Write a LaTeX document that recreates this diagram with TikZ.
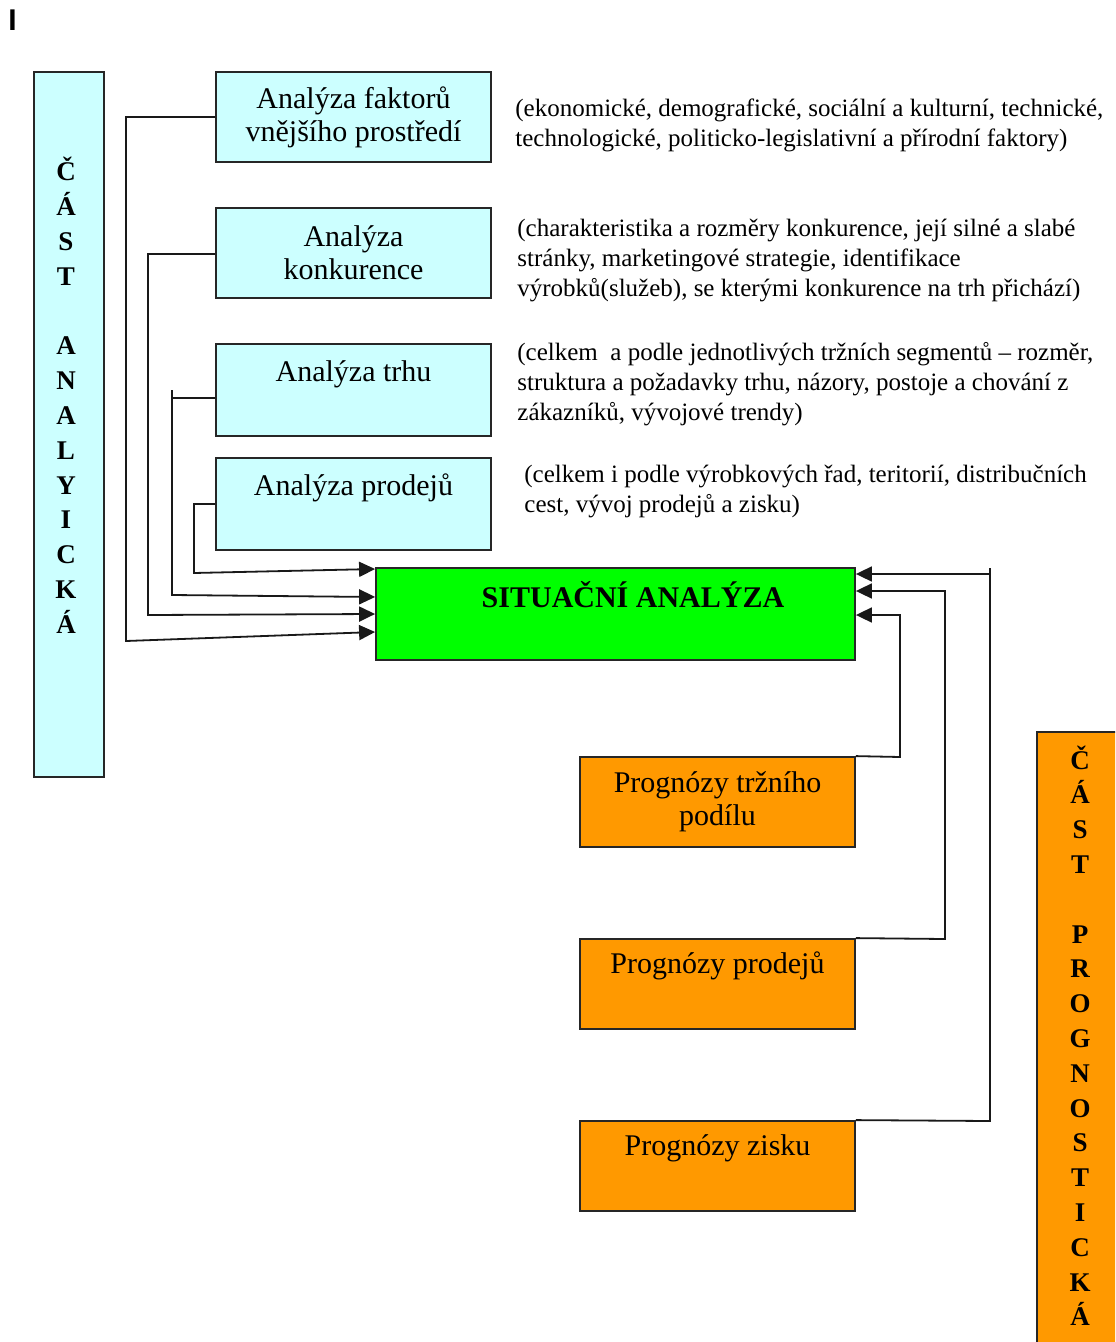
\documentclass[tikz,border=0pt]{standalone}
\usepackage{fontspec}
\setmainfont{Liberation Serif}
\newfontfamily\marksans{Liberation Sans}
\usetikzlibrary{arrows.meta}
\definecolor{paleCyan}{HTML}{CCFFFF}
\definecolor{vivGreen}{HTML}{00FF00}
\definecolor{amber}{HTML}{FF9900}
\begin{document}
\begin{tikzpicture}[x=0.5pt,y=-0.5pt,
  box/.style={draw=black!85, line width=0.9pt, inner sep=0pt, align=center,
    font=\fontsize{15}{16.5}\selectfont},
  stdbox/.style={box, minimum width=137.5pt, minimum height=45pt},
  anbox/.style={stdbox, fill=paleCyan},
  prbox/.style={stdbox, fill=amber},
  btxt/.style={inner sep=0pt, anchor=base, font=\fontsize{15}{16.5}\selectfont},
  note/.style={inner sep=0pt, anchor=base west, font=\fontsize{12.5}{15}\selectfont},
  colttl/.style={inner sep=0pt, anchor=base, font=\bfseries\fontsize{13.5}{17.4}\selectfont},
  link/.style={draw=black!90, line width=0.9pt},
  arr/.style={link, -{Triangle[length=8pt,width=7.5pt]}}
]
\clip (0,0) rectangle (1115,1342);
\fill[white] (0,0) rectangle (1115,1342);

% marker in the top-left corner
\node[inner sep=0pt, anchor=base west, font=\marksans\bfseries\fontsize{15}{18}\selectfont] (mark) at (8,31) {I};

% side columns
\node[box, fill=paleCyan, minimum width=35pt, minimum height=352.5pt] (lcol) at (69,424.5) {};
\node[colttl] (lcolt) at (66,181) {\begin{tabular}[t]{@{}c@{}}Č\\Á\\S\\T\\ \\A\\N\\A\\L\\Y\\I\\C\\K\\Á\end{tabular}};
\node[box, fill=amber, minimum width=44pt, minimum height=314pt] (rcol) at (1081,1046) {};
\node[colttl] (rcolt) at (1080,769) {\begin{tabular}[t]{@{}c@{}}Č\\Á\\S\\T\\ \\P\\R\\O\\G\\N\\O\\S\\T\\I\\C\\K\\Á\end{tabular}};

% analysis boxes
\node[anbox] (b1) at (353.5,117) {Analýza faktorů\\vnějšího prostředí};
\node[anbox] (b2) at (353.5,253) {Analýza\\konkurence};
\node[anbox, minimum height=46pt] (b3) at (353.5,390) {};
\node[btxt] (t3) at (353.5,381) {Analýza trhu};
\node[anbox, minimum height=46pt] (b4) at (353.5,504) {};
\node[btxt] (t4) at (353.5,495) {Analýza prodejů};

% central box
\node[box, fill=vivGreen, minimum width=239.5pt, minimum height=46pt] (sa) at (615.5,614) {};
\node[btxt, font=\bfseries\fontsize{15}{18}\selectfont] (sat) at (633,607) {SITUAČNÍ ANALÝZA};

% forecast boxes
\node[prbox] (o1) at (717.5,802) {Prognózy tržního\\podílu};
\node[prbox] (o2) at (717.5,984) {};
\node[btxt] (t6) at (717.5,973) {Prognózy prodejů};
\node[prbox] (o3) at (717.5,1166) {};
\node[btxt] (t7) at (717.5,1155) {Prognózy zisku};

% notes
\node[note] (n1) at (515,117) {\begin{tabular}[t]{@{}l@{}}(ekonomické, demografické, sociální a kulturní, technické,\\technologické, politicko-legislativní a přírodní faktory)\end{tabular}};
\node[note] (n2) at (517,237) {\begin{tabular}[t]{@{}l@{}}(charakteristika a rozměry konkurence, její silné a slabé\\stránky, marketingové strategie, identifikace\\výrobků(služeb), se kterými konkurence na trh přichází)\end{tabular}};
\node[note] (n3) at (517,360) {\begin{tabular}[t]{@{}l@{}}(celkem\ \ a podle jednotlivých tržních segmentů – rozměr,\\struktura a požadavky trhu, názory, postoje a chování z\\zákazníků, vývojové trendy)\end{tabular}};
\node[note] (n4) at (524,482) {\begin{tabular}[t]{@{}l@{}}(celkem i podle výrobkových řad, teritorií, distribučních\\cest, vývoj prodejů a zisku)\end{tabular}};

% inputs from the analytical part
\draw[arr] (b1.west) -- (126,117) -- (126,641) -- (sa.west |- 0,632);
\draw[arr] (b2.west |- 0,254) -- (148,254) -- (148,615) -- (sa.west |- 0,614);
\draw[arr] (b3.west |- 0,398) -- (172,398) -- (172,595) -- (sa.west |- 0,597);
\draw[link] (172,390) -- (172,398);
\draw[arr] (b4.west) -- (194,504) -- (194,573) -- (sa.west |- 0,569);

% inputs from the forecasting part
\draw[arr] (o1.north east) -- (900,757) -- (900,615) -- (sa.east |- 0,615);
\draw[arr] (o2.north east) -- (945,939) -- (945,591) -- (sa.east |- 0,591);
\draw[arr] (o3.north east) -- (990,1121) -- (990,574) -- (sa.east |- 0,574);
\draw[link] (990,568) -- (990,574);
\end{tikzpicture}
\end{document}
